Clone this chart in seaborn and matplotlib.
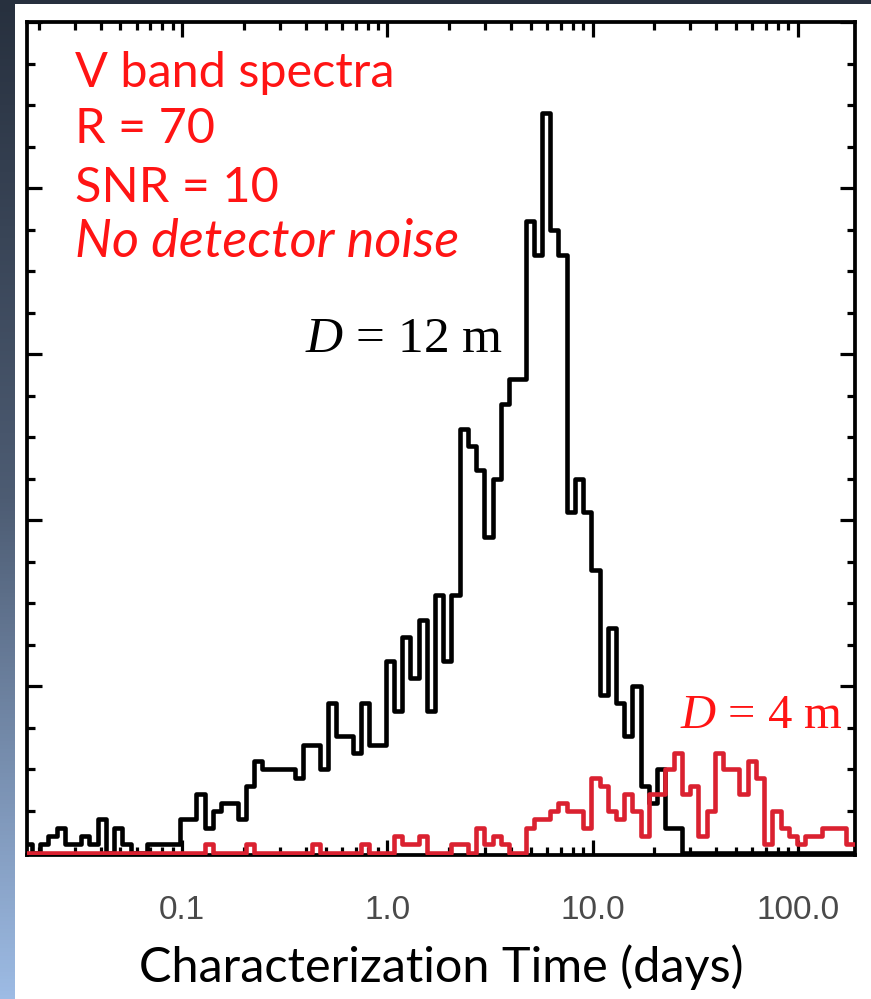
import numpy as np
import pandas as pd
import matplotlib
matplotlib.use("Agg")
import matplotlib.pyplot as plt
import matplotlib.patches as mpatches
from matplotlib.colors import LinearSegmentedColormap
from matplotlib.ticker import LogLocator, NullFormatter, MultipleLocator
import seaborn as sns

# ---------------- data ----------------
# histogram bins: log10(days) edges, constant width
LOG_EDGE_START = -1.773
LOG_BIN_WIDTH = 0.0401

# counts per bin, D = 12 m telescope (black)
counts_12m = [1, 0, 1, 2, 3, 1, 1, 2, 1, 4, 0, 3, 1, 0, 0, 1, 1, 1, 1, 4,
              4, 7, 3, 5, 6, 6, 4, 8, 11, 10, 10, 10, 10, 9, 13, 13, 10, 18, 14, 14,
              12, 18, 13, 13, 23, 17, 26, 21, 28, 17, 31, 23, 31, 51, 49, 46, 38, 45, 54, 57,
              57, 76, 72, 89, 75, 72, 41, 45, 41, 34, 19, 27, 18, 14, 20, 8, 6, 10, 3, 3,
              0, 0, 0, 0, 0, 0, 0, 0, 0, 0, 0, 0, 0, 0, 0, 0, 0, 0, 0, 0, 0]

# counts per bin, D = 4 m telescope (red)
counts_4m = [0, 0, 0, 0, 0, 0, 0, 0, 0, 0, 0, 0, 0, 0, 0, 0, 0, 0, 0, 0,
             0, 0, 1, 0, 0, 0, 0, 1, 0, 0, 0, 0, 0, 0, 0, 1, 0, 0, 0, 0,
             0, 1, 0, 0, 0, 2, 1, 1, 2, 0, 0, 0, 1, 1, 0, 3, 1, 2, 1, 0,
             0, 3, 4, 4, 5, 6, 5, 5, 3, 9, 8, 5, 4, 7, 5, 2, 7, 7, 10, 12,
             7, 8, 2, 5, 12, 10, 10, 7, 11, 9, 1, 5, 3, 2, 1, 2, 2, 3, 3, 3, 1]

x_ticks = [0.1, 1.0, 10.0, 100.0]
x_ticklabels = ["0.1", "1.0", "10.0", "100.0"]
x_label = "Characterization Time (days)"
info_lines = ["V band spectra", "R = 70", "SNR = 10", "No detector noise"]
label_12m = "$D$ = 12 m"
label_4m = "$D$ = 4 m"

n_bins = len(counts_12m)
log_edges = LOG_EDGE_START + LOG_BIN_WIDTH * np.arange(n_bins + 1)
centers = 10 ** ((log_edges[:-1] + log_edges[1:]) / 2)
bin_list = [float(v) for v in log_edges]

df = pd.DataFrame({
    "time": np.concatenate([centers, centers]),
    "count": counts_12m + counts_4m,
    "telescope": ["12 m"] * n_bins + ["4 m"] * n_bins,
})

# ---------------- style ----------------
sns.set_theme(style="white")
plt.rcParams["font.family"] = ["Lato", "DejaVu Sans"]
plt.rcParams["mathtext.fontset"] = "custom"
plt.rcParams["mathtext.it"] = "Liberation Serif:italic"
plt.rcParams["mathtext.rm"] = "Liberation Serif"

W, H = 871, 999
fig = plt.figure(figsize=(W / 100, H / 100), dpi=100)

# background: gradient strip on left/top, white panel
bg = fig.add_axes([0, 0, 1, 1], zorder=-10)
cmap = LinearSegmentedColormap.from_list("bg", ["#27303e", "#4d5c73", "#9dbbe4"])
grad = np.linspace(0, 1, 256).reshape(-1, 1)
bg.imshow(grad, aspect="auto", cmap=cmap, extent=[0, 1, 0, 1], origin="upper")
bg.add_patch(mpatches.Rectangle((15 / W, 0), 1 - 15 / W, 1 - 4 / H,
                                transform=bg.transAxes, color="white", lw=0))
bg.set_xlim(0, 1)
bg.set_ylim(0, 1)
bg.axis("off")

# main axes
L, R, T, B = 27, 855, 22, 855
ax = fig.add_axes([L / W, 1 - B / H, (R - L) / W, (B - T) / H])
ax.set_facecolor("white")

RED_HIST = "#DA2130"
RED_TEXT = "#FF1414"

sns.histplot(data=df[df["telescope"] == "12 m"], x="time", weights="count",
             bins=bin_list, log_scale=True, element="step", fill=False,
             color="black", linewidth=3.3, ax=ax, zorder=3)
sns.histplot(data=df[df["telescope"] == "4 m"], x="time", weights="count",
             bins=bin_list, log_scale=True, element="step", fill=False,
             color=RED_HIST, linewidth=3.3, ax=ax, zorder=4)

ax.set_xscale("log")
ax.set_xlim(10 ** -1.7565, 10 ** 2.279)
ax.set_ylim(-0.3, 100)

ax.set_xticks(x_ticks)
ax.set_xticklabels(x_ticklabels)
ax.xaxis.set_minor_locator(LogLocator(base=10, subs=np.arange(2, 10), numticks=50))
ax.xaxis.set_minor_formatter(NullFormatter())
ax.yaxis.set_major_locator(MultipleLocator(20))
ax.yaxis.set_minor_locator(MultipleLocator(5))

ax.tick_params(axis="both", which="both", direction="in", top=True, right=True,
               bottom=True, left=True, color="black", width=2.3)
ax.tick_params(axis="both", which="major", length=11)
ax.tick_params(axis="both", which="minor", length=5.5)
ax.tick_params(axis="y", labelleft=False)
ax.tick_params(axis="x", labelsize=24, labelcolor="#4a4a4a", pad=29)
for lbl in ax.get_xticklabels():
    lbl.set_fontfamily("Liberation Sans")

for sp in ax.spines.values():
    sp.set_visible(True)
    sp.set_color("black")
    sp.set_linewidth(2.7)

ax.set_ylabel("")
ax.set_xlabel(x_label, fontsize=35, color="black", labelpad=13)

# annotations (pixel positions -> figure fraction)
def ftext(px, py, s, **kw):
    fig.text(px / W, 1 - py / H, s, va="baseline", ha="left", **kw)

baselines = [87, 143, 202, 257]
sizes = [35, 35, 35, 37.5]
for i, (line, yb, fs) in enumerate(zip(info_lines, baselines, sizes)):
    ftext(75, yb, line, fontsize=fs, color=RED_TEXT,
          fontstyle="italic" if i == 3 else "normal")

ftext(305, 352, label_12m, fontsize=37, color="black", family="Liberation Serif")
ftext(680, 728, label_4m, fontsize=35, color=RED_TEXT, family="Liberation Serif")

fig.savefig("out.png", dpi=100)
